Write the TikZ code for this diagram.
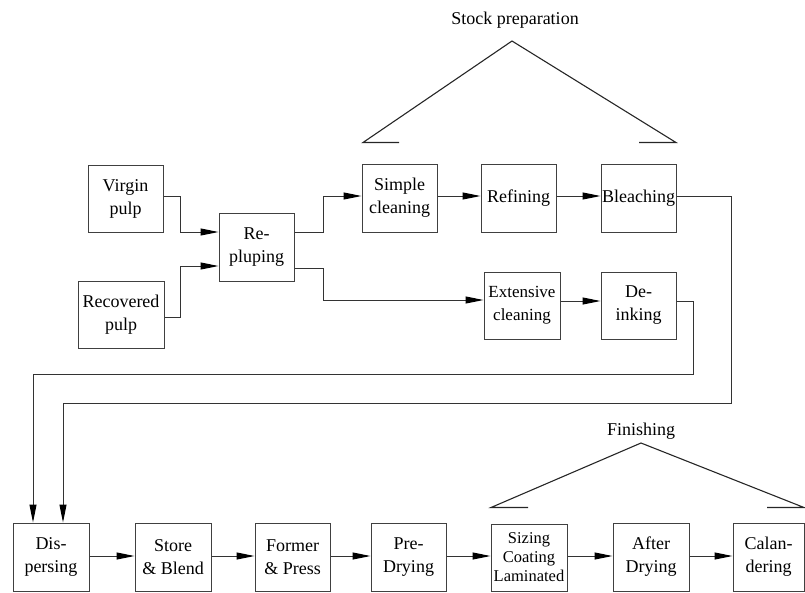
\documentclass[tikz,border=0pt]{standalone}
\usepackage{fontspec}
\setmainfont{Liberation Serif}
\usetikzlibrary{arrows.meta}
\begin{document}
\begin{tikzpicture}[x=1pt,y=-1pt,
  box/.style={draw=black!75,line width=1pt,rectangle,inner sep=0pt,align=center,
    minimum width=75pt,minimum height=68pt,font=\fontsize{18}{23}\selectfont},
  conn/.style={draw=black!80,line width=1pt,-{Triangle[length=18pt,width=7pt,color=black]}},
  line/.style={draw=black!85,line width=1.1pt},
  lbl/.style={font=\fontsize{18}{22}\selectfont,inner sep=0pt}]
\useasboundingbox (0,0) rectangle (805,592);
% top part
\node[box,minimum height=67pt] (vp) at (125.5,198.5) {Virgin\\pulp};
\node[box,minimum width=86pt,minimum height=67pt] (rcp) at (121,314.5) {Recovered\\pulp};
\node[box] (rp) at (256.5,247) {Re-\\pluping};
\node[box] (sc) at (399.5,198) {Simple\\cleaning};
\node[box] (rf) at (518.5,198) {Refining};
\node[box] (bl) at (638.5,198) {Bleaching};
\node[box,minimum width=76pt,minimum height=67pt,font=\fontsize{17}{23}\selectfont] (ec) at (522,305.5) {Extensive\\cleaning};
\node[box,minimum height=67pt] (di) at (638.5,305.5) {De-\\inking};
% bottom row
\node[box,minimum width=76pt] (ds) at (51,557) {Dis-\\persing};
\node[box,minimum width=76pt] (sb) at (173,557) {Store\\\& Blend};
\node[box] (fp) at (292.5,557) {Former\\\& Press};
\node[box] (pd) at (408.5,557) {Pre-\\Drying};
\node[box,minimum width=76pt,minimum height=67pt,font=\fontsize{16.5}{19}\selectfont] (sz) at (529,557.5) {Sizing\\Coating\\Laminated};
\node[box,minimum width=76pt] (ad) at (651,557) {After\\Drying};
\node[box,minimum width=71pt] (cl) at (768.5,557) {Calan-\\dering};
% labels
\node[lbl] (stk) at (515,20) {Stock preparation};
\node[lbl] (fin) at (641,431) {Finishing};
% brackets
\coordinate (s1) at (399,142.5); \coordinate (s2) at (363,142.5); \coordinate (s3) at (512,41);
\coordinate (s4) at (676,142.5); \coordinate (s5) at (639,142.5);
\draw[line] (s1) -- (s2) -- (s3) -- (s4) -- (s5);
\coordinate (f1) at (528,507.5); \coordinate (f2) at (491,507.5); \coordinate (f3) at (641,443);
\coordinate (f4) at (804,507.5); \coordinate (f5) at (767,507.5);
\draw[line] (f1) -- (f2) -- (f3) -- (f4) -- (f5);
% connectors top
\draw[conn] ([yshift=2.5pt]vp.east) -- ++(17,0) |- ([yshift=15pt]rp.west);
\draw[conn] ([yshift=-2.5pt]rcp.east) -- ++(16,0) |- ([yshift=-19pt]rp.west);
\draw[conn] ([yshift=15pt]rp.east) -- ++(29,0) |- ([yshift=2pt]sc.west);
\draw[conn] ([yshift=-21pt]rp.east) -- ++(29,0) |- ([yshift=5.5pt]ec.west);
\draw[conn] ([yshift=2pt]sc.east) -- ([yshift=2pt]rf.west);
\draw[conn] ([yshift=2pt]rf.east) -- ([yshift=2pt]bl.west);
\draw[conn] ([yshift=4.5pt]ec.east) -- ([yshift=4.5pt]di.west);
% return lines
\coordinate (d1) at (693,374);
\coordinate (b1) at (731,403);
\draw[conn] ([yshift=4.5pt]di.east) -| (d1) -| ([xshift=-18pt]ds.north);
\draw[conn] ([yshift=2pt]bl.east) -| (b1) -| ([xshift=12pt]ds.north);
% bottom connectors
\draw[conn] ([yshift=1pt]ds.east) -- ([yshift=1pt]sb.west);
\draw[conn] ([yshift=1pt]sb.east) -- ([yshift=1pt]fp.west);
\draw[conn] ([yshift=1pt]fp.east) -- ([yshift=1pt]pd.west);
\draw[conn] ([yshift=1pt]pd.east) -- ([yshift=1.5pt]sz.west);
\draw[conn] ([yshift=1.5pt]sz.east) -- ([yshift=1pt]ad.west);
\draw[conn] ([yshift=1pt]ad.east) -- ([yshift=1pt]cl.west);
\end{tikzpicture}
\end{document}
